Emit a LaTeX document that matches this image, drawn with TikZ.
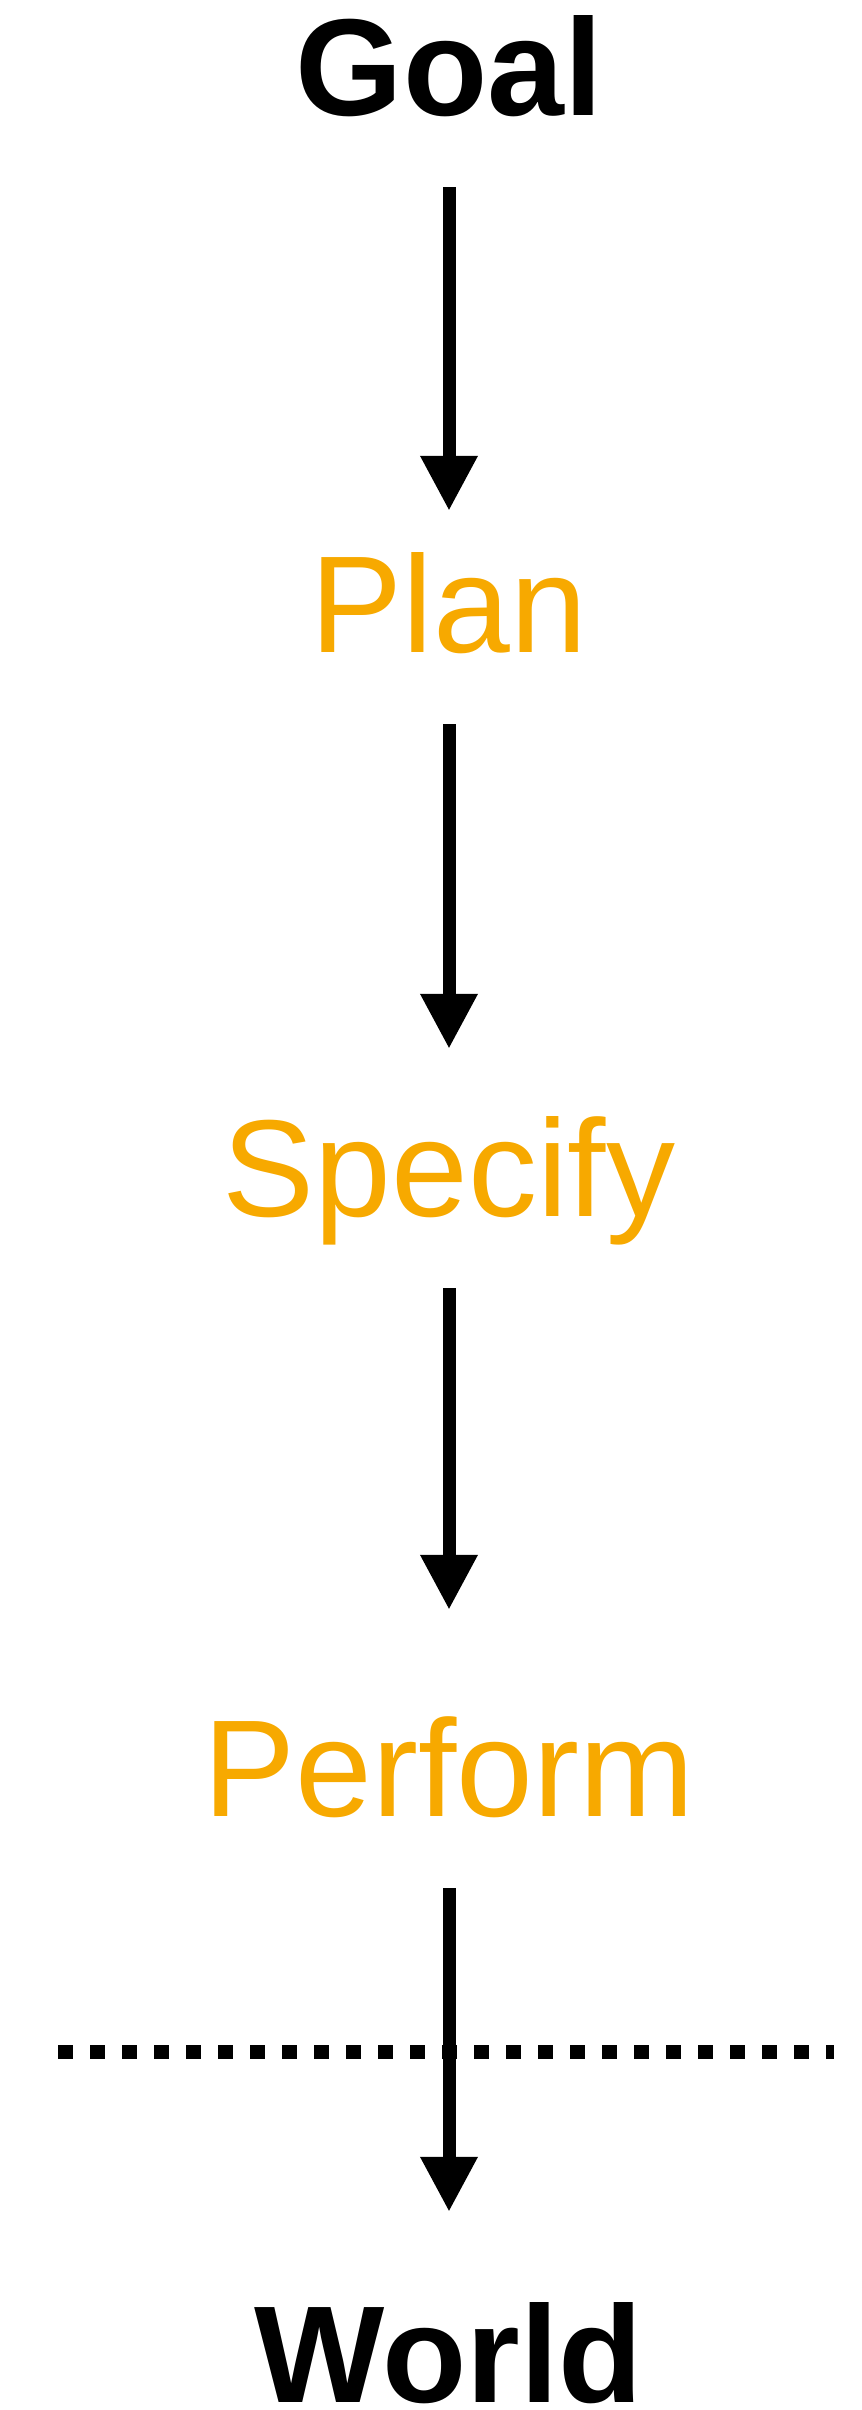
\documentclass[tikz,border=0pt]{standalone}
\usepackage{fontspec}
\setmainfont{Liberation Sans}
\usetikzlibrary{arrows.meta}
\definecolor{keyorange}{RGB}{247,169,0}
\colorlet{stage text}{keyorange}
\colorlet{flow line}{black}
\tikzset{title/.style={font=\fontsize{138}{150}\selectfont\bfseries, inner sep=0pt, text height=100pt, text depth=0pt, anchor=base},
	stage/.style={font=\fontsize{138}{150}\selectfont, text=stage text, inner sep=0pt, text height=100pt, text depth=0pt, anchor=base},
    flow/.style={draw=flow line, line width=13pt, -{Triangle[width=54pt,length=55pt]}, shorten <=72pt},
    boundary/.style={draw=black, line width=14pt, dash pattern=on 15pt off 17pt}}
\begin{document}
\begin{tikzpicture}[x=1pt, y=-1pt]

 \useasboundingbox (0,0) rectangle (862,2410);

\node[title] (goal) at (449,115) {Goal};
\node[stage] (plan) at (449,652) {Plan};
\node[stage] (specify) at (449,1216) {Specify};
\node[stage] (perform) at (449,1816) {Perform};
\node[title] (world) at (449,2402) {World};

\draw[flow, shorten >=41pt] (goal) -- (plan);
\draw[flow, shorten >=67pt] (plan) -- (specify);
\draw[flow, shorten >=106pt] (specify) -- (perform);
 % line between the head and the world
 \draw[boundary] (58,2052) -- (834,2052);
\draw[flow, shorten >=90pt] (perform) -- (world);

\end{tikzpicture}
\end{document}
